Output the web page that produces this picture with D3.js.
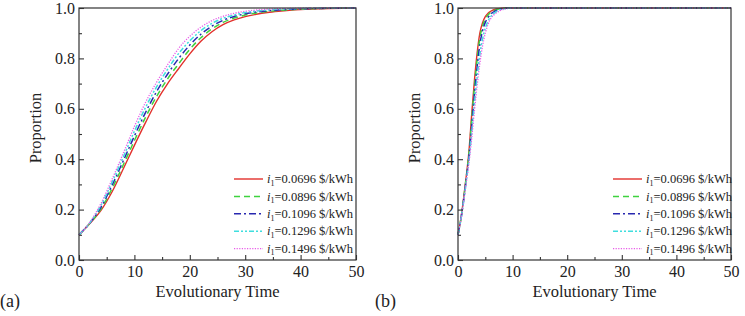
<!DOCTYPE html>
<html>
<head>
<meta charset="utf-8">
<script src="https://cdn.jsdelivr.net/npm/d3@7"></script>
<style>
  body { margin: 0; background: #fff; }
  svg text { font-family: "Liberation Serif", "Times New Roman", serif; fill: #222; }
</style>
</head>
<body>
<svg width="745" height="316"></svg>
<script>
// panel (a) data
var timeA = [0,2,4,6,8,10,12,14,16,18,20,22,24,26,28,30,32,34,36,38,40,42,45,50];
var redA     = [0.100,0.146,0.198,0.272,0.362,0.455,0.545,0.630,0.700,0.760,0.818,0.868,0.906,0.934,0.953,0.966,0.975,0.982,0.987,0.991,0.994,0.996,0.998,1.0];
var greenA   = [0.100,0.147,0.204,0.285,0.378,0.474,0.566,0.649,0.719,0.779,0.836,0.882,0.917,0.943,0.960,0.972,0.980,0.986,0.990,0.993,0.996,0.997,0.999,1.0];
var blueA    = [0.100,0.148,0.211,0.298,0.394,0.492,0.585,0.668,0.738,0.800,0.853,0.896,0.928,0.951,0.966,0.977,0.984,0.989,0.992,0.995,0.997,0.998,0.999,1.0];
var cyanA    = [0.100,0.149,0.219,0.310,0.409,0.511,0.605,0.687,0.757,0.820,0.870,0.910,0.939,0.959,0.972,0.982,0.988,0.992,0.995,0.997,0.998,0.999,1.0,1.0];
var magentaA = [0.100,0.151,0.226,0.322,0.424,0.530,0.625,0.705,0.775,0.840,0.888,0.924,0.950,0.967,0.979,0.987,0.992,0.995,0.997,0.998,0.999,0.9995,1.0,1.0];

// panel (b) data
var timeB = [0,0.5,1,1.5,2,2.5,3,3.5,4,4.5,5,5.5,6,7,8,9,10,20,30,40,50];
var redB     = [0.100,0.160,0.240,0.330,0.430,0.575,0.710,0.820,0.900,0.942,0.966,0.979,0.987,0.996,0.999,1.0,1.0,1.0,1.0,1.0,1.0];
var greenB   = [0.100,0.158,0.236,0.325,0.420,0.555,0.685,0.795,0.880,0.928,0.957,0.972,0.983,0.993,0.998,0.9995,1.0,1.0,1.0,1.0,1.0];
var blueB    = [0.100,0.157,0.232,0.318,0.408,0.530,0.655,0.765,0.855,0.910,0.943,0.962,0.976,0.990,0.997,0.999,1.0,1.0,1.0,1.0,1.0];
var cyanB    = [0.100,0.156,0.228,0.310,0.396,0.505,0.620,0.725,0.815,0.878,0.920,0.948,0.966,0.985,0.995,0.998,1.0,1.0,1.0,1.0,1.0];
var magentaB = [0.100,0.155,0.225,0.305,0.385,0.480,0.590,0.690,0.780,0.850,0.900,0.935,0.958,0.980,0.992,0.998,1.0,1.0,1.0,1.0,1.0];

var priceLabels = ["0.0696", "0.0896", "0.1096", "0.1296", "0.1496"];
var xTicks = [0,10,20,30,40,50];
var xMinor = [5,15,25,35,45];
var yTicks = [0,0.2,0.4,0.6,0.8,1.0];
var yMinor = [0.1,0.3,0.5,0.7,0.9];

var styles = [
  {color: "#e2302b", dash: null,              width: 1.4},
  {color: "#3ed23e", dash: "6,4",             width: 1.5},
  {color: "#2828b0", dash: "7,3,2,3",         width: 1.5},
  {color: "#3fdede", dash: "5,2,2,2,2,2",     width: 1.5},
  {color: "#e85ce8", dash: "1.2,1.4",         width: 1.3}
];

var svg = d3.select("svg");

function drawPanel(opt) {
  var x = d3.scaleLinear().domain([0, 50]).range([opt.left, opt.right]);
  var y = d3.scaleLinear().domain([0, 1]).range([260, 8]);
  var g = svg.append("g");

  // curves
  var line = d3.line()
    .x(function(d) { return x(d[0]); })
    .y(function(d) { return y(d[1]); })
    .curve(d3.curveMonotoneX);

  opt.series.forEach(function(s, i) {
    var pts = opt.time.map(function(t, j) { return [t, s[j]]; });
    g.append("path")
      .datum(pts)
      .attr("fill", "none")
      .attr("stroke", styles[i].color)
      .attr("stroke-width", styles[i].width)
      .attr("stroke-dasharray", styles[i].dash)
      .attr("d", line);
  });

  // axes, ticks inward
  var xa = g.append("g")
    .attr("transform", "translate(0,260)")
    .call(d3.axisBottom(x).tickValues(xTicks).tickSize(-5).tickPadding(6).tickFormat(d3.format("d")));
  var xm = g.append("g")
    .attr("transform", "translate(0,260)")
    .call(d3.axisBottom(x).tickValues(xMinor).tickSize(-3).tickFormat(""));
  var ya = g.append("g")
    .attr("transform", "translate(" + opt.left + ",0)")
    .call(d3.axisLeft(y).tickValues(yTicks).tickSize(-5).tickPadding(4).tickFormat(d3.format(".1f")));
  var ym = g.append("g")
    .attr("transform", "translate(" + opt.left + ",0)")
    .call(d3.axisLeft(y).tickValues(yMinor).tickSize(-3).tickFormat(""));

  [xa, xm, ya, ym].forEach(function(a) {
    a.select(".domain").remove();
    a.selectAll("line").attr("stroke", "#333").attr("stroke-width", 1.1);
    a.selectAll("text").attr("font-size", 16).attr("fill", "#222")
      .style("font-family", "'Liberation Serif', serif");
  });

  // frame
  g.append("rect")
    .attr("x", opt.left).attr("y", 8)
    .attr("width", opt.right - opt.left).attr("height", 252)
    .attr("fill", "none").attr("stroke", "#333").attr("stroke-width", 1.2);

  // axis titles
  g.append("text")
    .attr("transform", "translate(" + opt.yTitleX + ",128) rotate(-90)")
    .attr("text-anchor", "middle")
    .attr("dy", "0.35em")
    .attr("font-size", 16.5)
    .text("Proportion");
  g.append("text")
    .attr("x", (opt.left + opt.right) / 2)
    .attr("y", 297)
    .attr("text-anchor", "middle")
    .attr("font-size", 16.5)
    .text("Evolutionary Time");
  g.append("text")
    .attr("x", opt.tag.x)
    .attr("y", 307)
    .attr("font-size", 18)
    .text(opt.tag.text);

  // legend
  var leg = g.append("g");
  priceLabels.forEach(function(p, i) {
    var yy = 179 + i * 17.4;
    leg.append("line")
      .attr("x1", opt.legX).attr("x2", opt.legX + 29)
      .attr("y1", yy).attr("y2", yy)
      .attr("stroke", styles[i].color)
      .attr("stroke-width", styles[i].width)
      .attr("stroke-dasharray", styles[i].dash);
    var t = leg.append("text")
      .attr("x", opt.legX + 33)
      .attr("y", yy + 4.2)
      .attr("font-size", 12.5);
    t.append("tspan").attr("font-style", "italic").text("i");
    t.append("tspan").attr("font-size", 8).attr("dy", 2.5).text("1");
    t.append("tspan").attr("dy", -2.5).text("=" + p + " $/kWh");
  });
}

drawPanel({
  left: 79, right: 356, time: timeA,
  series: [redA, greenA, blueA, cyanA, magentaA],
  yTitleX: 35, legX: 234, tag: {x: 0, text: "(a)"}
});
drawPanel({
  left: 458, right: 731, time: timeB,
  series: [redB, greenB, blueB, cyanB, magentaB],
  yTitleX: 414, legX: 613, tag: {x: 375, text: "(b)"}
});
</script>
</body>
</html>
